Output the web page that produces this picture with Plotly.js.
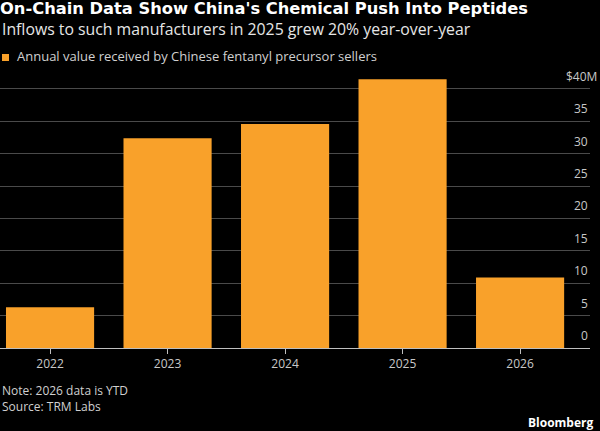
<!DOCTYPE html>
<html>
<head>
<meta charset="utf-8">
<script src="https://cdn.plot.ly/plotly-3.0.1.min.js"></script>
<style>
  html, body { margin: 0; padding: 0; background: #000; }
  #chart { width: 600px; height: 431px; }
</style>
</head>
<body>
<div id="chart"></div>
<script>
// Annual value received by Chinese fentanyl precursor sellers, $ millions
const years = ['2022', '2023', '2024', '2025', '2026'];
const valuesM = [6.3, 32.4, 34.6, 41.5, 10.9];
const seriesName = 'Annual value received by Chinese fentanyl precursor sellers';

// Y-axis gridlines and their labels (labels sit above each line)
const yTickVals = [0, 5, 10, 15, 20, 25, 30, 35, 40];
const yTickText = ['0', '5', '10', '15', '20', '25', '30', '35', '$40M'];

const titleText = "On-Chain Data Show China's Chemical Push Into Peptides";
const subtitleText = 'Inflows to such manufacturers in 2025 grew 20% year-over-year';
const noteText = 'Note: 2026 data is YTD';
const sourceText = 'Source: TRM Labs';
const brandText = 'Bloomberg';

const FONT = '"Open Sans", "Noto Sans", sans-serif';
const TITLE_FONT = '"DejaVu Sans", "Open Sans", sans-serif';
const ORANGE = '#F9A12A';

const trace = {
  type: 'bar',
  x: years,
  y: valuesM,
  name: seriesName,
  marker: { color: ORANGE, line: { width: 0 } },
  hoverinfo: 'x+y',
  showlegend: false
};

const annotations = [];

// subtitle
annotations.push({
  xref: 'paper', yref: 'paper', x: 0, y: 1, xanchor: 'left', yanchor: 'bottom',
  yshift: 34, text: subtitleText, showarrow: false,
  font: { family: FONT, size: 15.8, color: '#e6e6e6' }
});

// legend label
annotations.push({
  xref: 'paper', yref: 'paper', x: 0, y: 1, xanchor: 'left', yanchor: 'bottom',
  xshift: 15, yshift: 9, text: seriesName, showarrow: false,
  font: { family: FONT, size: 13, color: '#d0d0d0' }
});

// y tick labels above gridlines, right-aligned; unit suffix hangs past the edge
yTickVals.forEach((v, i) => {
  const label = yTickText[i];
  annotations.push({
    xref: 'paper', yref: 'y', x: 1, y: v, xanchor: 'right', yanchor: 'bottom',
    xshift: label.endsWith('M') ? 9 : 0, yshift: 2,
    text: label, showarrow: false,
    font: { family: FONT, size: 12, color: '#c8c8c8' }
  });
});

// note, source, brand
annotations.push({
  xref: 'paper', yref: 'paper', x: 0, y: 0, xanchor: 'left', yanchor: 'top',
  yshift: -32, text: noteText, showarrow: false, align: 'left',
  font: { family: FONT, size: 12, color: '#d0d0d0' }
});
annotations.push({
  xref: 'paper', yref: 'paper', x: 0, y: 0, xanchor: 'left', yanchor: 'top',
  yshift: -48, text: sourceText, showarrow: false, align: 'left',
  font: { family: FONT, size: 12, color: '#d0d0d0' }
});
annotations.push({
  xref: 'paper', yref: 'paper', x: 1, y: 0, xanchor: 'right', yanchor: 'top',
  xshift: 6, yshift: -64, text: '<b>' + brandText + '</b>', showarrow: false,
  font: { family: FONT, size: 12, color: '#ffffff' }
});

const layout = {
  width: 600,
  height: 431,
  paper_bgcolor: '#000',
  plot_bgcolor: '#000',
  margin: { l: 0, r: 10, t: 76, b: 83 },
  bargap: 0.25,
  title: {
    text: '<b>' + titleText + '</b>',
    x: 0, xref: 'container', xanchor: 'left',
    y: 1, yref: 'container', yanchor: 'top',
    pad: { t: 3, l: 0 },
    font: { family: TITLE_FONT, size: 16.3, color: '#ffffff' }
  },
  xaxis: {
    type: 'category',
    range: [-0.426, 4.595],
    showgrid: false,
    zeroline: false,
    showline: false,
    ticks: 'outside',
    ticklen: 5,
    tickwidth: 1,
    tickcolor: '#bfbfbf',
    tickfont: { family: FONT, size: 12, color: '#c8c8c8' },
    fixedrange: true
  },
  yaxis: {
    range: [0, 42],
    tickvals: yTickVals,
    showticklabels: false,
    showgrid: true,
    gridcolor: '#4a4a4a',
    gridwidth: 1,
    zeroline: true,
    zerolinecolor: '#bfbfbf',
    zerolinewidth: 1,
    showline: false,
    ticks: '',
    fixedrange: true
  },
  shapes: [{
    // legend swatch
    type: 'rect', xref: 'paper', yref: 'paper',
    xsizemode: 'pixel', ysizemode: 'pixel',
    xanchor: 0, yanchor: 1,
    x0: 2, x1: 9, y0: 15, y1: 22,
    fillcolor: ORANGE, line: { width: 0 }
  }],
  annotations: annotations,
  showlegend: false
};

Plotly.newPlot('chart', [trace], layout, { displayModeBar: false, staticPlot: true });
</script>
</body>
</html>
